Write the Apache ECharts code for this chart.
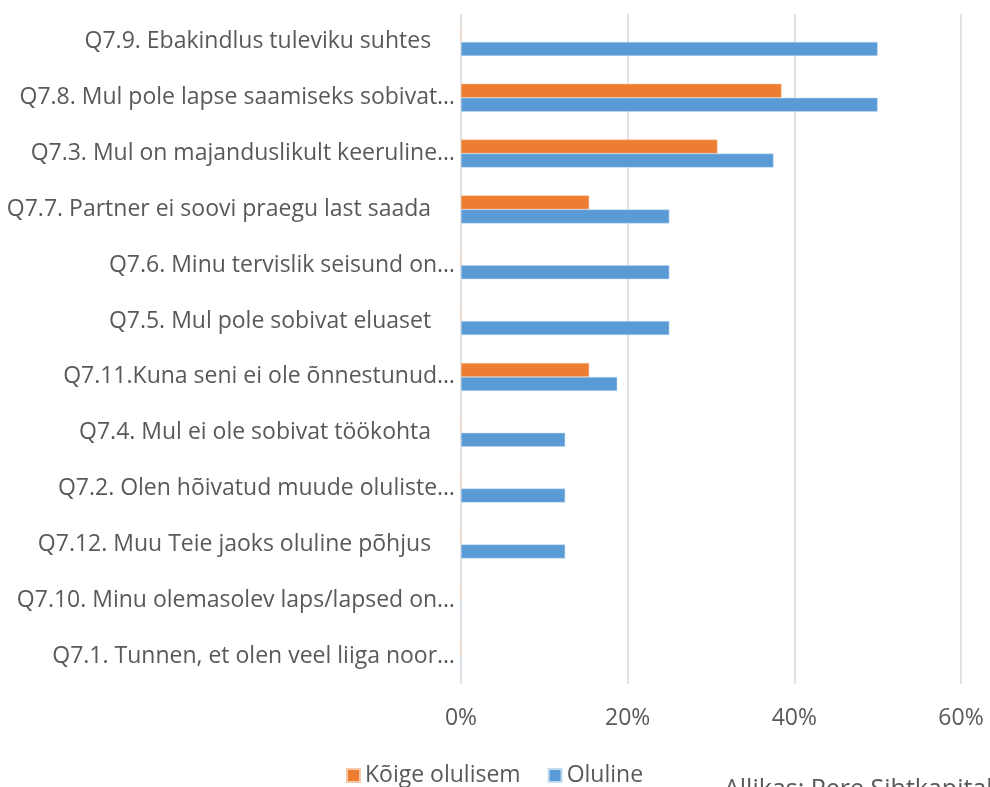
<!DOCTYPE html>
<html>
<head>
<meta charset="utf-8">
<script src="https://cdn.jsdelivr.net/npm/echarts@6/dist/echarts.min.js"></script>
<style>
  html, body { margin: 0; padding: 0; background: #fff; }
  #chart-container { width: 990px; height: 787px; }
</style>
</head>
<body>
<div id="chart-container"></div>
<script>
var categories = [
    'Q7.9. Ebakindlus tuleviku suhtes    ',
    'Q7.8. Mul pole lapse saamiseks sobivat…',
    'Q7.3. Mul on majanduslikult keeruline…',
    'Q7.7. Partner ei soovi praegu last saada    ',
    'Q7.6. Minu tervislik seisund on…',
    'Q7.5. Mul pole sobivat eluaset    ',
    'Q7.11.Kuna seni ei ole õnnestunud…',
    'Q7.4. Mul ei ole sobivat töökohta    ',
    'Q7.2. Olen hõivatud muude oluliste…',
    'Q7.12. Muu Teie jaoks oluline põhjus    ',
    'Q7.10. Minu olemasolev laps/lapsed on…',
    'Q7.1. Tunnen, et olen veel liiga noor…'
];
var koigeOlulisem = [0, 38.46, 30.77, 15.38, 0, 0, 15.38, 0, 0, 0, 0, 0];
var oluline = [50, 50, 37.5, 25, 25, 25, 18.75, 12.5, 12.5, 12.5, 0, 0];
var seriesNames = ['Kõige olulisem', 'Oluline'];
var tickMax = 60;
var tickStep = 20;
var sourceText = 'Allikas: Pere Sihtkapital';

var myChart = echarts.init(document.getElementById('chart-container'));

var font = '"Open Sans", "Noto Sans", sans-serif';
var textGray = '#595959';

var option = {
    animation: false,
    textStyle: { fontFamily: font },
    legend: {
        top: 759,
        left: 341,
        itemWidth: 13,
        itemHeight: 13,
        itemGap: 27,
        icon: 'rect',
        textStyle: { fontSize: 23, color: textGray, fontFamily: font },
        data: seriesNames
    },
    grid: {
        left: 461,
        right: 29,
        top: 14,
        bottom: 103,
        containLabel: false
    },
    xAxis: {
        type: 'value',
        min: 0,
        max: tickMax,
        interval: tickStep,
        axisLine: { show: false },
        axisTick: { show: false },
        axisLabel: {
            formatter: '{value}%',
            fontSize: 23,
            color: textGray,
            margin: 23
        },
        splitLine: { lineStyle: { color: '#d9d9d9', width: 1.5 } }
    },
    yAxis: {
        type: 'category',
        inverse: true,
        data: categories,
        axisLine: { show: false },
        axisTick: { show: false },
        axisLabel: {
            fontSize: 23,
            color: textGray,
            margin: 6
        }
    },
    series: [
        {
            name: seriesNames[0],
            type: 'bar',
            data: koigeOlulisem,
            barWidth: 14,
            barGap: '0%',
            itemStyle: { color: '#ed7d31', borderColor: '#f6c9a8', borderWidth: 0.5 }
        },
        {
            name: seriesNames[1],
            type: 'bar',
            data: oluline,
            barWidth: 14,
            barGap: '0%',
            itemStyle: { color: '#5b9bd5', borderColor: '#c5dbf0', borderWidth: 0.5 }
        }
    ],
    graphic: [
        {
            type: 'text',
            left: 724,
            top: 777,
            style: {
                text: sourceText,
                fontSize: 25,
                fill: textGray,
                fontFamily: font
            }
        }
    ]
};

myChart.setOption(option);
</script>
</body>
</html>
